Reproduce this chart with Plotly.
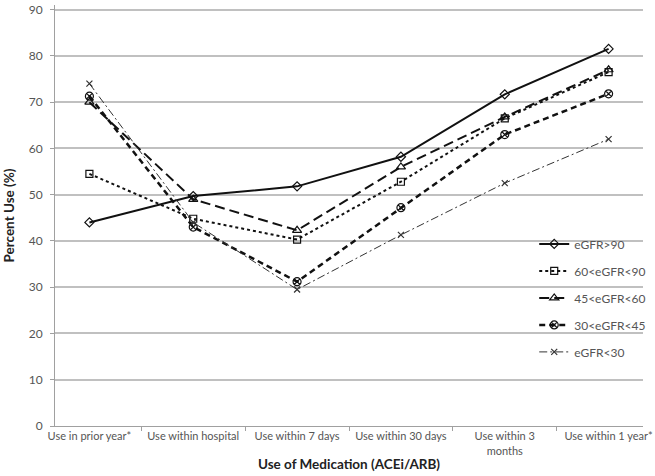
import plotly.graph_objects as go

categories = ["Use in prior year*", "Use within hospital", "Use within 7 days",
              "Use within 30 days", "Use within 3<br>months", "Use within 1 year*"]

series_names = ["eGFR>90", "60<eGFR<90", "45<eGFR<60", "30<eGFR<45", "eGFR<30"]
egfr_over_90 = [44.0, 49.7, 51.8, 58.2, 71.7, 81.5]
egfr_60_90 = [54.5, 44.8, 40.3, 52.8, 66.5, 76.5]
egfr_45_60 = [70.0, 49.0, 42.3, 56.0, 66.8, 77.0]
egfr_30_45 = [71.3, 43.0, 31.2, 47.2, 63.0, 71.8]
egfr_under_30 = [74.0, 44.0, 29.5, 41.3, 52.5, 62.0]
y_ticks = [0, 10, 20, 30, 40, 50, 60, 70, 80, 90]

# line style per series
styles = [
    dict(dash="solid", width=2, color="#111111", symbol="diamond-open", size=7),
    dict(dash="dot", width=2, color="#111111", symbol="square-open", size=7),
    dict(dash="10px,5px", width=2, color="#111111", symbol="triangle-up-open", size=8),
    dict(dash="6px,4px", width=2.5, color="#111111", symbol="circle-x-open", size=8),
    dict(dash="8px,3px,2px,3px", width=1, color="#333333", symbol="x-thin-open", size=6),
]

values = [egfr_over_90, egfr_60_90, egfr_45_60, egfr_30_45, egfr_under_30]

fig = go.Figure()
for name, vals, st in zip(series_names, values, styles):
    fig.add_trace(go.Scatter(
        x=categories, y=vals, name=name, mode="lines+markers",
        legendgroup=name,
        line=dict(color=st["color"], width=st["width"], dash=st["dash"]),
        marker=dict(symbol=st["symbol"], size=st["size"], color=st["color"],
                    line=dict(color=st["color"], width=1.2)),
    ))

font = "Lato, 'Open Sans', sans-serif"
fig.update_layout(
    width=655, height=476,
    margin=dict(l=55, r=3, t=2, b=50),
    paper_bgcolor="white", plot_bgcolor="white",
    font=dict(family=font, size=12, color="#555555"),
    legend=dict(x=0.815, y=0.467, xanchor="left", yanchor="top",
                font=dict(size=12, color="#555555"), tracegroupgap=8,
                itemwidth=30, bgcolor="rgba(0,0,0,0)"),
    xaxis=dict(
        showgrid=False, showline=True, linecolor="#a0a0a0", linewidth=1,
        ticks="outside", ticklen=4, tickcolor="#a0a0a0", tickangle=0,
        tickson="boundaries", tickfont=dict(size=11),
        title=dict(text="<b>Use of Medication (ACEi/ARB)</b>",
                   font=dict(size=13.5, color="#222222"), standoff=4),
    ),
    yaxis=dict(
        range=[0, 91], tickvals=y_ticks, showgrid=True, gridcolor="#c0c0c0", gridwidth=1.5,
        showline=True, linecolor="#a0a0a0", linewidth=1, ticklabeloverflow="allow",
        ticks="outside", ticklen=4, tickcolor="#a0a0a0", zeroline=False,
        ticklabelstandoff=5,
        title=dict(text="<b>Percent Use (%)</b>",
                   font=dict(size=13.5, color="#222222"), standoff=10),
    ),
)

# drop the page's default body margin so the figure sits at the window's corner
fig.write_html("out.html", config={"displayModeBar": False},
               post_script="document.body.style.margin = '0';")
